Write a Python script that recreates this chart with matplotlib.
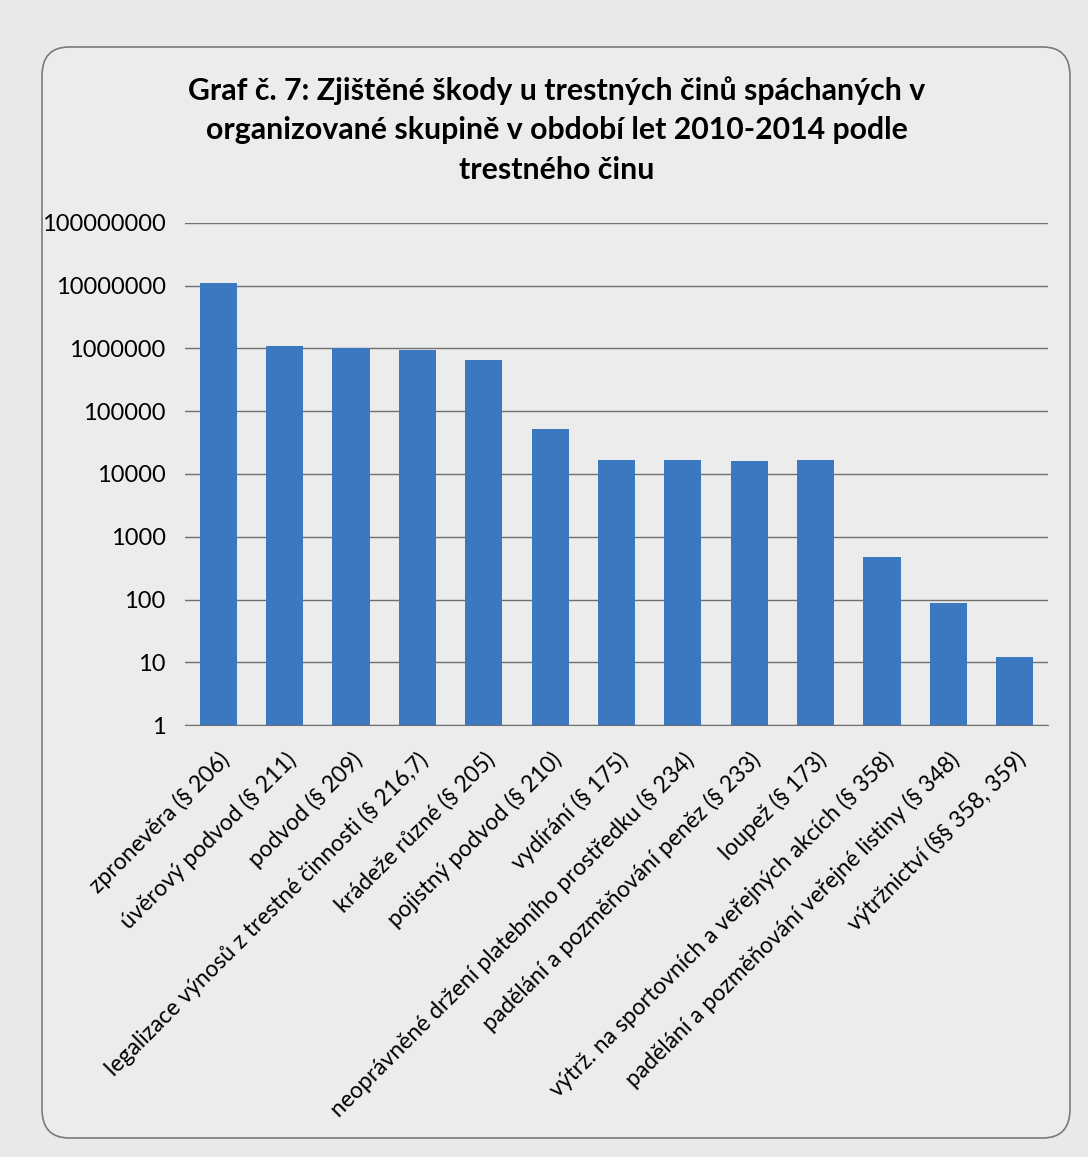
import numpy as np
import matplotlib
matplotlib.use("Agg")
import matplotlib.pyplot as plt
from matplotlib.patches import FancyBboxPatch

plt.rcParams['font.family'] = ['Lato', 'DejaVu Sans']

# Data (log scale)
categories = [
    "zpronevěra (§ 206)",
    "úvěrový podvod (§ 211)",
    "podvod (§ 209)",
    "legalizace výnosů z trestné činnosti (§ 216,7)",
    "krádeže různé (§ 205)",
    "pojistný podvod (§ 210)",
    "vydírání (§ 175)",
    "neoprávněné držení platebního prostředku (§ 234)",
    "padělání a pozměňování peněz (§ 233)",
    "loupež (§ 173)",
    "výtrž. na sportovních a veřejných akcích (§ 358)",
    "padělání a pozměňování veřejné listiny (§ 348)",
    "výtržnictví (§§ 358, 359)",
]
damages = [11000000, 1080000, 1020000, 960000, 660000, 53000,
           16500, 16500, 16000, 16500, 480, 88, 12]
tick_values = [1, 10, 100, 1000, 10000, 100000, 1000000, 10000000, 100000000]
title = ("Graf č. 7: Zjištěné škody u trestných činů spáchaných v\n"
         "organizované skupině v období let 2010-2014 podle\n"
         "trestného činu")

bg = '#e9e9e9'
bar_color = '#3b78bf'

W, H = 1088, 1157
fig = plt.figure(figsize=(W / 100, H / 100), dpi=100)
fig.patch.set_facecolor(bg)

# rounded chart frame
frame = FancyBboxPatch((42 / W, 1 - 1138 / H), (1070 - 42) / W, (1138 - 47) / H,
                       boxstyle="round,pad=0,rounding_size=0.025",
                       transform=fig.transFigure, facecolor='#ececec',
                       edgecolor='#7a7a7a', linewidth=1.2, zorder=-1)
fig.patches.append(frame)

ax = fig.add_axes([185 / W, 1 - 725 / H, (1048 - 185) / W, (725 - 223) / H])
ax.set_facecolor('none')

x = np.arange(len(categories))
ax.bar(x, damages, width=0.56, color=bar_color, zorder=3)
ax.set_yscale('log')
ax.set_ylim(1, 100000000)
ax.set_xlim(-0.5, len(categories) - 0.5)

ax.set_yticks(tick_values)
ax.set_yticklabels([str(v) for v in tick_values], fontsize=17)
ax.yaxis.set_minor_locator(matplotlib.ticker.NullLocator())
ax.tick_params(axis='y', length=0, pad=14)
ax.grid(axis='y', color='#707070', linewidth=1.0, zorder=0)

ax.set_xticks(x)
ax.set_xticklabels(categories, rotation=45, ha='right', rotation_mode='anchor',
                   fontsize=16.5)
ax.tick_params(axis='x', length=0, pad=17)

for side in ['left', 'right', 'top']:
    ax.spines[side].set_visible(False)
ax.spines['bottom'].set_color('#707070')

fig.text(557 / W, 1 - 76 / H, title, ha='center', va='top', fontsize=21.8,
         fontweight='bold', linespacing=1.5)

fig.savefig('out.png', dpi=100, facecolor=bg)
